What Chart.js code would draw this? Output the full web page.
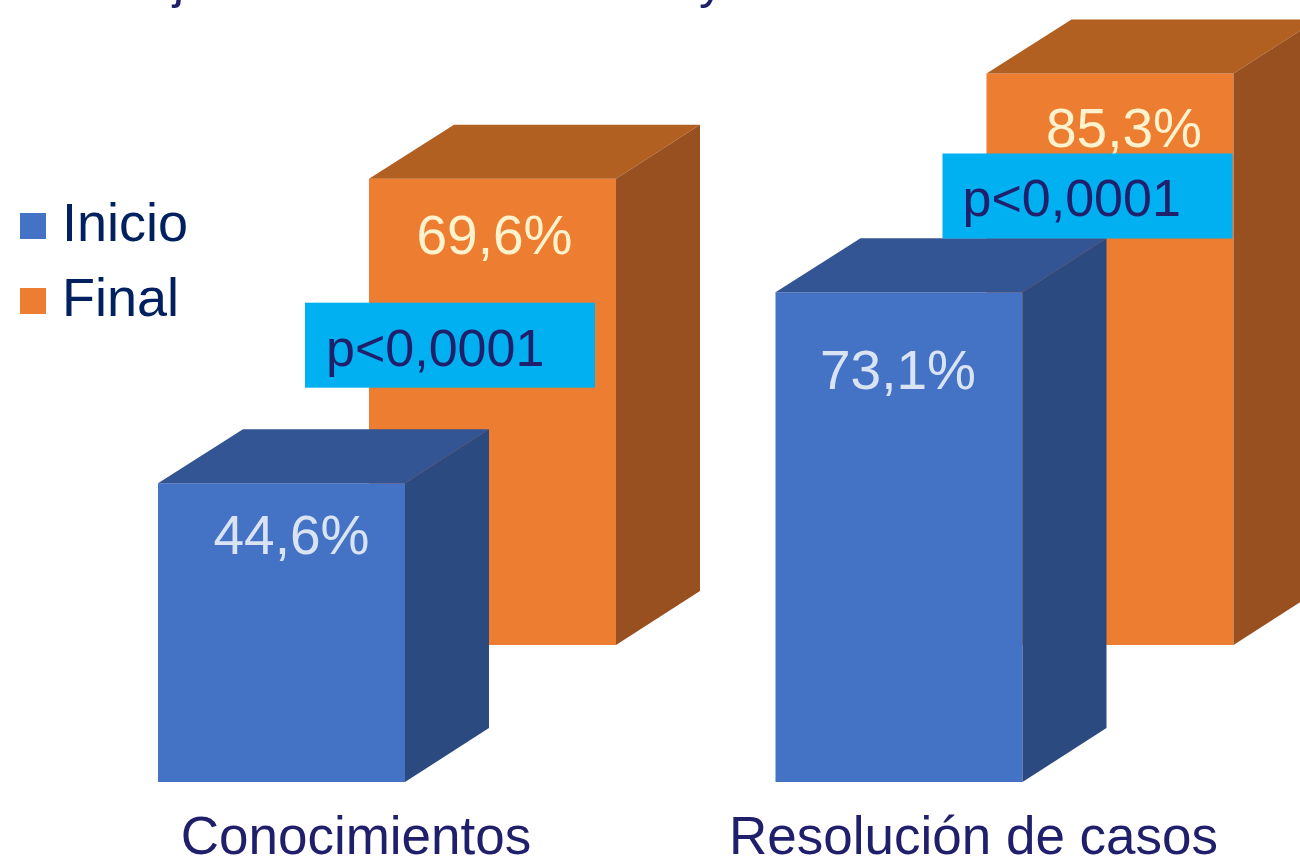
<!DOCTYPE html>
<html><head><meta charset="utf-8">
<style>html,body{margin:0;padding:0;background:#fff;overflow:hidden}#w{width:1300px;height:857px}canvas{display:block}</style>
<script src="https://cdn.jsdelivr.net/npm/chart.js@4/dist/chart.umd.min.js"></script>
</head><body><div id="w"><canvas id="c"></canvas></div>
<script>
const categories = ['Conocimientos', 'Resolución de casos'];
const inicio = [44.6, 73.1];
const final_ = [69.6, 85.3];
const pValues = ['p<0,0001', 'p<0,0001'];
const titleFragments = ['j', 'y'];

const FONT = '"Liberation Sans", Arial, sans-serif';
const UNIT = 6.7, BASE_Y = 782, DEPTH_Y = 137, CANVAS_TOP_UNITS = BASE_Y / UNIT;
const DX = 84, DY = -54;
const styles = [
  {front:'#4472C4', top:'#335593', side:'#2B4A80', label:'#DAE3F3', nudge:[{x:10,y:56},{x:-1,y:82}]},
  {front:'#ED7D31', top:'#B25F22', side:'#995020', label:'#FFF2CC', nudge:[{x:2,y:60},{x:14,y:58}]}
];
const pBoxes = [{dx:-64, dy:124, w:290, h:85, tx:21, ty:63}, {dx:-44, dy:80, w:290, h:85, tx:20, ty:63}];

const fmt = v => v.toFixed(1).replace('.', ',') + '%';

const cube3d = {
  id:'cube3d',
  beforeDraw(chart){
    const lg = chart.legend; lg.left = 10; lg.top = 178;
  },
  afterDatasetDraw(chart, args){
    const ctx = chart.ctx, st = styles[args.index];
    args.meta.data.forEach(b => {
      const l = b.x - b.width/2, r = b.x + b.width/2, t = b.y, bt = b.base;
      ctx.save();
      ctx.fillStyle = st.top;
      ctx.beginPath(); ctx.moveTo(l,t); ctx.lineTo(l+DX+1,t+DY); ctx.lineTo(r+DX,t+DY); ctx.lineTo(r,t); ctx.closePath(); ctx.fill();
      ctx.fillStyle = st.side;
      ctx.beginPath(); ctx.moveTo(r,t); ctx.lineTo(r+DX,t+DY); ctx.lineTo(r+DX,bt+DY); ctx.lineTo(r,bt); ctx.closePath(); ctx.fill();
      ctx.restore();
    });
  },
  afterDatasetsDraw(chart){
    const ctx = chart.ctx;
    ctx.save();
    ctx.textBaseline = 'middle'; ctx.textAlign = 'center';
    ctx.font = '55px ' + FONT;
    chart.data.datasets.forEach((ds, di) => {
      chart.getDatasetMeta(di).data.forEach((b, i) => {
        ctx.fillStyle = styles[di].label;
        const n = styles[di].nudge[i];
        ctx.fillText(fmt(ds.data[i]), b.x + n.x, b.y + n.y);
      });
    });
    const meta = chart.getDatasetMeta(1);
    ctx.textAlign = 'left'; ctx.textBaseline = 'alphabetic'; ctx.font = '52px ' + FONT;
    meta.data.forEach((b, i) => {
      const p = pBoxes[i], x = b.x - b.width/2 + p.dx, y = b.y + p.dy;
      ctx.fillStyle = '#00B0F0'; ctx.fillRect(x, y, p.w, p.h);
      ctx.fillStyle = '#1F1F6B'; ctx.fillText(pValues[i], x + p.tx, y + p.ty);
    });
    ctx.font = '50px ' + FONT; ctx.fillStyle = '#1F1F6B';
    ctx.fillText(titleFragments[0], 173, -2);
    ctx.fillText(titleFragments[1], 699, -2);
    ctx.restore();
  }
};

new Chart(document.getElementById('c'), {
  type:'bar',
  data:{labels:categories, datasets:[
    {label:'Inicio', data:inicio, backgroundColor:styles[0].front, borderWidth:0, yAxisID:'y', clip:false},
    {label:'Final', data:final_, backgroundColor:styles[1].front, borderWidth:0, yAxisID:'y2', clip:false}
  ]},
  options:{
    responsive:true, maintainAspectRatio:false, animation:false, devicePixelRatio:1,
    events:[],
    layout:{padding:{left:0,right:295.5,top:0,bottom:0}},
    categoryPercentage:422/617.5, barPercentage:247/211,
    scales:{
      x:{type:'category', offset:false, grid:{display:false}, border:{display:false},
         afterFit(s){ s.height = 75; },
         ticks:{color:'#1F1F6B', font:{family:FONT,size:53}, labelOffset:-31, padding:18, maxRotation:0, autoSkip:false}},
      y:{min:0, max:CANVAS_TOP_UNITS, grid:{display:false}, border:{display:false},
         ticks:{display:false},
         afterFit(s){ s.width = 387 - (s.chart.legend ? s.chart.legend.width : 0); }},
      y2:{display:false, min:-DEPTH_Y/UNIT, max:CANVAS_TOP_UNITS-DEPTH_Y/UNIT}
    },
    plugins:{
      tooltip:{enabled:false},
      legend:{position:'left', align:'start',
        labels:{color:'#002060', font:{family:FONT,size:54}, usePointStyle:true, pointStyle:'rect', boxWidth:4, boxHeight:26, padding:21}}
    }
  },
  plugins:[cube3d]
});
</script></body></html>
